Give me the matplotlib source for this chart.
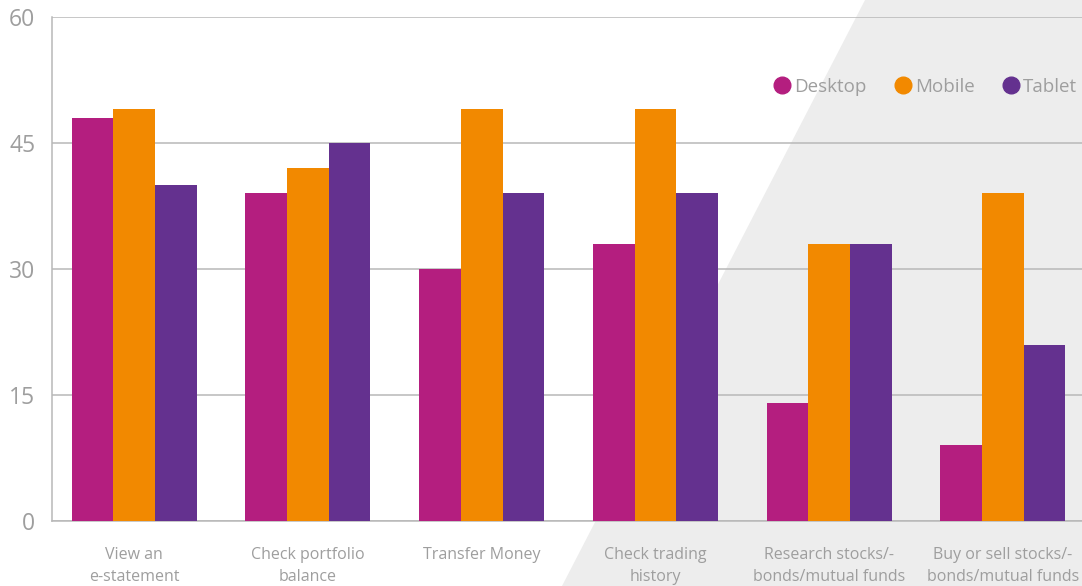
import matplotlib
matplotlib.use("Agg")
import matplotlib.pyplot as plt
from matplotlib.patches import Polygon
from matplotlib.lines import Line2D
import numpy as np

plt.rcParams["font.family"] = ["Open Sans", "DejaVu Sans"]

categories = [
    "View an\ne-statement",
    "Check portfolio\nbalance",
    "Transfer Money",
    "Check trading\nhistory",
    "Research stocks/-\nbonds/mutual funds",
    "Buy or sell stocks/-\nbonds/mutual funds",
]
series_names = ["Desktop", "Mobile", "Tablet"]
desktop = [48, 39, 30, 33, 14, 9]
mobile = [49, 42, 49, 49, 33, 39]
tablet = [40, 45, 39, 39, 33, 21]
y_ticks = [0, 15, 30, 45, 60]

colors = ["#b41e7f", "#f28900", "#64318f"]
txt_col = "#9e9e9e"
grid_col = "#b8b8b8"

fig = plt.figure(figsize=(10.82, 5.86), dpi=100)
fig.patch.set_facecolor("white")

# light grey diagonal band in the background
band = Polygon([(865 / 1082, 1), (562 / 1082, 0), (1, 0), (1, 1)],
               closed=True, transform=fig.transFigure,
               facecolor="#ededed", edgecolor="none", zorder=-1)
fig.patches.append(band)

ax = fig.add_axes([52 / 1082, 65 / 586, 1 - 52 / 1082, 504 / 586])
ax.patch.set_alpha(0)

x = np.arange(len(categories))
w = 0.24
for i, (vals, col) in enumerate(zip([desktop, mobile, tablet], colors)):
    ax.bar(x + (i - 1) * w, vals, width=w, color=col, zorder=3)

ax.set_xlim(-0.473, 5.455)
ax.set_ylim(0, 60)
ax.set_yticks(y_ticks)
ax.set_xticks(x)
ax.set_xticklabels(categories, fontsize=11.5, color=txt_col, linespacing=1.45)
ax.tick_params(axis="y", length=0, pad=12, labelsize=16.5, labelcolor=txt_col)
ax.tick_params(axis="x", length=0, pad=19)
ax.grid(axis="y", color=grid_col, linewidth=1.1, zorder=0)
ax.set_axisbelow(True)
for side in ["top", "right"]:
    ax.spines[side].set_visible(False)
for side in ["left", "bottom"]:
    ax.spines[side].set_color(grid_col)
    ax.spines[side].set_linewidth(1.1)

handles = [Line2D([], [], marker="o", linestyle="none", markersize=12,
                  markerfacecolor=c, markeredgecolor=c) for c in colors]
ax.legend(handles, series_names, ncol=3, frameon=False,
          loc="center right", bbox_to_anchor=(1.012, 0.862),
          fontsize=13.5, labelcolor=txt_col,
          handletextpad=0.05, columnspacing=1.35, handlelength=1.2)

fig.savefig("out.png", dpi=100)
